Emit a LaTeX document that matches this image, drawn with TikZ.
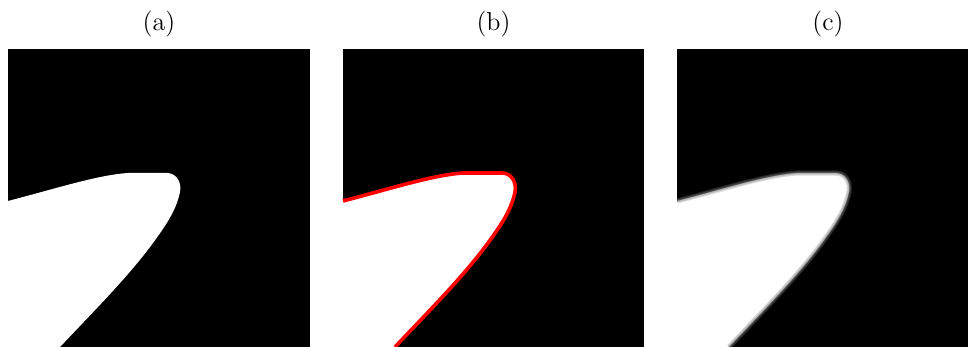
\documentclass[tikz,border=0pt]{standalone}
\usetikzlibrary{positioning}
% outline of the bright region, in pixels from the panel's lower left corner
\newcommand\blobedge{(0,146) .. controls (50,159) and (90,172) .. (120,174)
  -- (159,174) .. controls (168,174) and (174,165) .. (172,155)
  .. controls (168,135) and (155,118) .. (145,104)
  .. controls (120,70) and (85,35) .. (52,0)}
\newcommand\blobshape{\blobedge -- (0,0) -- cycle}
\begin{document}
\begin{tikzpicture}[x=0.5pt, y=0.5pt,
  panel/.style={fill=black},
  blob/.style={fill=white},
  contour/.style={draw=red, line width=1.8pt},
  haze/.style={draw=gray, opacity=0.28},
  caption/.style={font=\fontsize{13}{15}\selectfont, inner sep=0pt}
]
\useasboundingbox (0,0) rectangle (968,347);
% (a) mask
\fill[panel] (8,0) rectangle (310,298);
\begin{scope}[shift={(8,0)}]
  \fill[blob] \blobshape;
\end{scope}
\node[caption] (capa) at (159,322.5) {(a)};
% (b) mask with its contour
\fill[panel] (343,0) rectangle (644,298);
\begin{scope}[shift={(343,0)}]
  \fill[blob] \blobshape;
  \draw[contour] \blobedge;
\end{scope}
\node[caption] (capb) at (493.5,322.5) {(b)};
% (c) smoothed mask
\fill[panel] (677,0) rectangle (968,298);
\begin{scope}
  \clip (677,0) rectangle (968,298);
  \begin{scope}[shift={(677,0)}]
    \fill[blob] \blobshape;
    \draw[haze, line width=2.6pt] \blobedge;
    \draw[haze, line width=1.6pt] \blobedge;
    \draw[haze, line width=0.7pt] \blobedge;
  \end{scope}
\end{scope}
\node[caption] (capc) at (828,322.5) {(c)};
\end{tikzpicture}
\end{document}
